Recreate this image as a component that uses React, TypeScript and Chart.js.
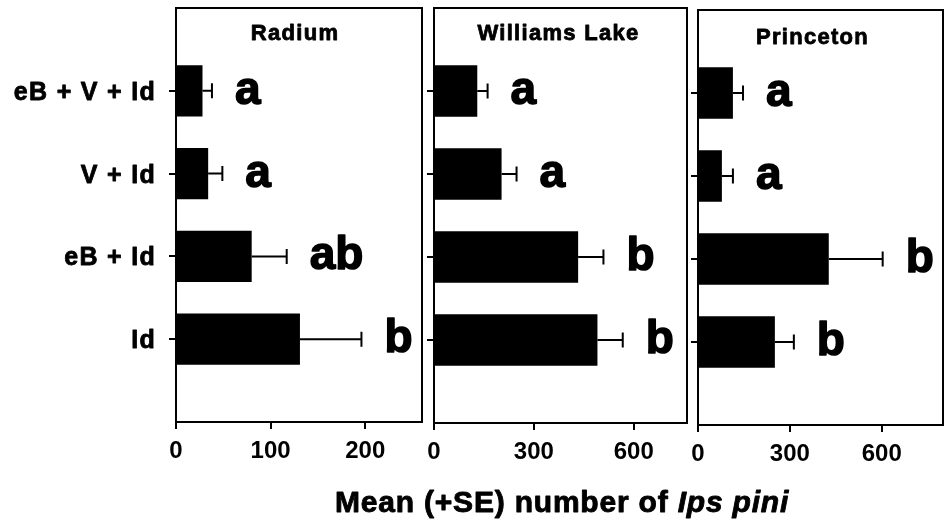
import React, { useEffect, useRef } from 'react';
import { Chart, registerables } from 'chart.js';

Chart.register(...registerables);

// ---------- data ----------
const categories = ['eB + V + Id', 'V + Id', 'eB + Id', 'Id'];
const siteNames = ['Radium', 'Williams Lake', 'Princeton'];

const radiumMeans = [28, 34, 80, 131];
const radiumSE = [10, 15, 37, 65];
const radiumLetters = ['a', 'a', 'ab', 'b'];
const radiumTicks = [0, 100, 200];
const radiumMax = 260;

const williamsMeans = [130, 203, 433, 491];
const williamsSE = [31, 45, 76, 76];
const williamsLetters = ['a', 'a', 'b', 'b'];
const williamsTicks = [0, 300, 600];
const williamsMax = 760;

const princetonMeans = [114, 78, 427, 251];
const princetonSE = [33, 36, 176, 62];
const princetonLetters = ['a', 'a', 'b', 'b'];
const princetonTicks = [0, 300, 600];
const princetonMax = 800;

const axisTitleMain = 'Mean (+SE) number of ';
const axisTitleItalic = 'Ips pini';

// ---------- layout / style ----------
const W = 948;
const H = 527;
const Y_W = 12;
const X_H = 50;
const FONT = '"Liberation Sans", Arial, Helvetica, sans-serif';

const panels = [
  { name: siteNames[0], means: radiumMeans, se: radiumSE, letters: radiumLetters, ticks: radiumTicks, max: radiumMax,
    box: { left: 176, right: 422, top: 8, bottom: 422 }, titleY: 40, titleDx: -4, showLabels: true, showAxisTitle: false },
  { name: siteNames[1], means: williamsMeans, se: williamsSE, letters: williamsLetters, ticks: williamsTicks, max: williamsMax,
    box: { left: 434, right: 687, top: 8, bottom: 423 }, titleY: 40, titleDx: -2, showLabels: false, showAxisTitle: true },
  { name: siteNames[2], means: princetonMeans, se: princetonSE, letters: princetonLetters, ticks: princetonTicks, max: princetonMax,
    box: { left: 698, right: 943, top: 10, bottom: 425 }, titleY: 44, titleDx: -8, showLabels: false, showAxisTitle: false },
];

function heavyText(ctx: CanvasRenderingContext2D, text: string, x: number, y: number, stroke: number) {
  ctx.fillText(text, x, y);
  if (stroke > 0) {
    ctx.lineWidth = stroke;
    ctx.lineJoin = 'round';
    ctx.strokeText(text, x, y);
  }
}

function makePlugin(p: any) {
  return {
    id: 'panelExtras',
    afterDatasetsDraw(chart: any) {
      const ctx = chart.ctx;
      const xs = chart.scales.x;
      const ys = chart.scales.y;
      ctx.save();
      ctx.strokeStyle = '#000';
      ctx.lineWidth = 2;
      p.means.forEach((m: number, i: number) => {
        const y = ys.getPixelForValue(i + 1);
        const x0 = xs.getPixelForValue(m);
        const x1 = xs.getPixelForValue(m + p.se[i]);
        ctx.beginPath();
        ctx.moveTo(x0, y);
        ctx.lineTo(x1, y);
        ctx.moveTo(x1, y - 7.5);
        ctx.lineTo(x1, y + 7.5);
        ctx.stroke();
      });
      ctx.restore();
    },
    afterDraw(chart: any) {
      const ctx = chart.ctx;
      const xs = chart.scales.x;
      const ys = chart.scales.y;
      const a = chart.chartArea;
      ctx.save();
      // frame
      ctx.strokeStyle = '#000';
      ctx.lineWidth = 2;
      ctx.strokeRect(a.left, a.top, a.right - a.left, a.bottom - a.top);

      ctx.fillStyle = '#000';
      // significance letters
      ctx.font = `bold 46px ${FONT}`;
      ctx.textAlign = 'left';
      ctx.textBaseline = 'alphabetic';
      (ctx as any).letterSpacing = '0px';
      p.letters.forEach((l: string, i: number) => {
        const y = ys.getPixelForValue(i + 1);
        const x1 = xs.getPixelForValue(p.means[i] + p.se[i]);
        heavyText(ctx, l, x1 + 23, y + 13, 1.5);
      });

      // panel title
      ctx.font = `bold 22px ${FONT}`;
      (ctx as any).letterSpacing = '1.3px';
      ctx.textAlign = 'center';
      heavyText(ctx, p.name, (a.left + a.right) / 2 + p.titleDx, p.titleY, 0.8);

      // category labels
      if (p.showLabels) {
        ctx.font = `bold 25px ${FONT}`;
        (ctx as any).letterSpacing = '1.3px';
        ctx.textAlign = 'right';
        categories.forEach((c, i) => {
          const y = ys.getPixelForValue(i + 1);
          heavyText(ctx, c, 156, y + 9, 0.8);
        });
      }

      // x axis title
      if (p.showAxisTitle) {
        (ctx as any).letterSpacing = '0.8px';
        ctx.textAlign = 'left';
        ctx.font = `bold 30px ${FONT}`;
        const w1 = ctx.measureText(axisTitleMain).width;
        ctx.font = `italic bold 30px ${FONT}`;
        const w2 = ctx.measureText(axisTitleItalic).width;
        const start = 562 - (w1 + w2) / 2;
        ctx.font = `bold 30px ${FONT}`;
        heavyText(ctx, axisTitleMain, start, 512, 0.9);
        ctx.font = `italic bold 30px ${FONT}`;
        heavyText(ctx, axisTitleItalic, start + w1, 512, 0.9);
      }
      ctx.restore();
    },
  };
}

function buildConfig(p: any): any {
  const labels = ['', ...categories, ''];
  const data = [null, ...p.means, null];
  const b = p.box;
  return {
    type: 'bar',
    data: {
      labels,
      datasets: [
        {
          data,
          backgroundColor: '#000',
          borderWidth: 0,
          categoryPercentage: 1,
          barPercentage: 0.62,
        },
      ],
    },
    options: {
      indexAxis: 'y',
      responsive: false,
      animation: false,
      events: [],
      layout: {
        padding: {
          left: b.left - Y_W,
          right: W - b.right,
          top: b.top,
          bottom: H - X_H - b.bottom,
        },
      },
      plugins: {
        legend: { display: false },
        tooltip: { enabled: false },
        title: { display: false },
      },
      scales: {
        x: {
          type: 'linear',
          min: 0,
          max: p.max,
          afterBuildTicks: (s: any) => {
            s.ticks = p.ticks.map((v: number) => ({ value: v }));
          },
          afterFit: (s: any) => {
            s.height = X_H;
          },
          grid: {
            drawOnChartArea: false,
            drawTicks: true,
            tickLength: 7,
            color: '#000',
            lineWidth: 2,
          },
          border: { display: true, color: '#000', width: 2 },
          ticks: {
            color: '#000',
            font: { family: FONT, size: 24, weight: 'bold' },
            padding: 8,
            maxRotation: 0,
            autoSkip: false,
          },
        },
        y: {
          type: 'category',
          offset: false,
          afterFit: (s: any) => {
            s.width = Y_W;
          },
          grid: {
            offset: false,
            drawOnChartArea: false,
            drawTicks: true,
            tickLength: 7,
            lineWidth: 2,
            color: (c: any) => (c.tick && c.tick.label === '' ? 'rgba(0,0,0,0)' : '#000'),
          },
          border: { display: true, color: '#000', width: 2 },
          ticks: { display: false, autoSkip: false },
        },
      },
    },
    plugins: [makePlugin(p)],
  };
}

function Panel({ p }: { p: any }) {
  const ref = useRef<HTMLCanvasElement | null>(null);
  useEffect(() => {
    if (!ref.current) return;
    const chart = new Chart(ref.current, buildConfig(p));
    return () => chart.destroy();
  }, [p]);
  return (
    <canvas
      ref={ref}
      width={W}
      height={H}
      style={{ position: 'absolute', left: 0, top: 0, width: W, height: H, display: 'block' }}
    />
  );
}

export default function App() {
  return (
    <div style={{ position: 'fixed', left: 0, top: 0, width: W, height: H, background: '#fff', overflow: 'hidden' }}>
      {panels.map((p) => (
        <Panel key={p.name} p={p} />
      ))}
    </div>
  );
}
